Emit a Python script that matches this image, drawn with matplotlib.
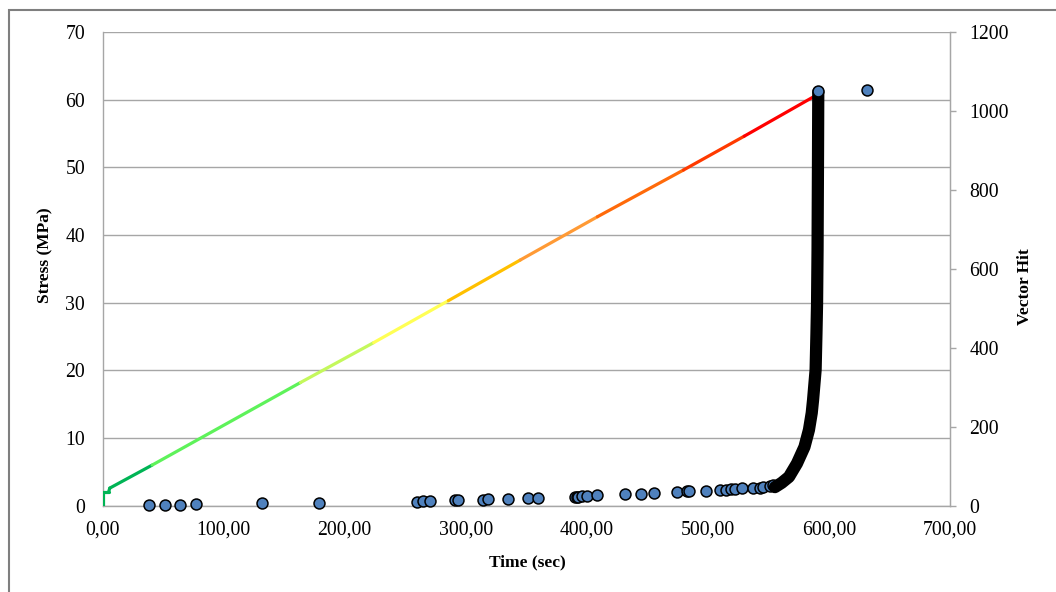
import matplotlib
matplotlib.use("Agg")
import matplotlib.pyplot as plt
from matplotlib.ticker import FuncFormatter, FixedLocator
from matplotlib.patches import Rectangle

# Stress ramp (time in s, stress in MPa)
stress_time = [0, 0, 5, 6, 41, 163.5, 224, 285.7, 345, 408.8, 479.8, 530, 591]
stress_mpa = [0, 2.0, 2.0, 2.6, 6.0, 18.2, 24.1, 30.3, 36.3, 42.7, 49.6, 54.6, 60.8]
segment_colors = ["#00b455", "#00b455", "#00b455", "#00b455", "#5ef25a",
                  "#c4f85c", "#ffff55", "#ffc000", "#ff9a35", "#ff6a0a",
                  "#ff3a00", "#ff0000"]

# Cumulative vector hits (sparse events)
hit_time = [38.2, 51.4, 63.8, 77.6, 131.8, 178.5,
            259.5, 265.0, 270.5, 291.3, 294.0, 314.5, 318.7, 335.2,
            351.7, 360.0, 390.5, 392.0, 393.0, 395.8, 400.0, 408.2,
            431.6, 444.8, 455.6, 474.7, 482.9, 484.7, 498.5, 510.0,
            515.0, 518.9, 522.4, 528.0, 537.5, 543.3, 545.6, 551.2, 553.9]
hit_count = [1, 2, 3, 5, 6, 8,
             10, 11, 12, 14, 15, 15, 16, 17,
             19, 20, 21, 22, 22, 24, 25, 27,
             29, 30, 33, 35, 36, 37, 38, 40,
             41, 42, 43, 44, 44, 46, 48, 50, 52]

# Burst of hits just before failure
burst_time = [555.4, 561.0, 567.0, 573.6, 579.8, 583.5, 585.8, 586.9,
              589.0, 589.7, 590.2, 590.6, 591.0, 591.2]
burst_count = [47, 58, 73, 107, 149, 192, 235, 268,
               344, 437, 513, 647, 900, 1048]

# Final hits
final_time = [591.2, 631.8]
final_count = [1050, 1052]

x_ticks = [0, 100, 200, 300, 400, 500, 600, 700]
stress_ticks = [0, 10, 20, 30, 40, 50, 60, 70]
hit_ticks = [0, 200, 400, 600, 800, 1000, 1200]

plt.rcParams["font.family"] = ["Liberation Serif", "DejaVu Serif"]

W, H = 1056, 592
fig = plt.figure(figsize=(W / 100, H / 100), dpi=100)
left, right, top, bottom = 102.5, 950.0, 32.0, 505.7
ax = fig.add_axes([left / W, 1 - bottom / H, (right - left) / W, (bottom - top) / H])

grid_c = "#a6a6a6"
tick_fs = 14.2
ax.set_xlim(0, 700)
ax.set_ylim(0, 70)
ax.xaxis.set_major_locator(FixedLocator(x_ticks))
ax.yaxis.set_major_locator(FixedLocator(stress_ticks))
ax.xaxis.set_major_formatter(FuncFormatter(lambda v, p: f"{v:.2f}".replace(".", ",")))
ax.yaxis.set_major_formatter(FuncFormatter(lambda v, p: f"{v:g}"))
ax.grid(axis="y", color=grid_c, linewidth=1.0)
ax.set_axisbelow(True)
ax.tick_params(axis="x", length=0, pad=10.5, labelsize=tick_fs)
ax.tick_params(axis="y", length=0, pad=12.5, labelsize=tick_fs)
for s in ["left", "bottom", "right"]:
    ax.spines[s].set_color(grid_c)
    ax.spines[s].set_linewidth(1.0)
ax.spines["top"].set_visible(False)

for i in range(len(stress_time) - 1):
    ax.plot(stress_time[i:i + 2], stress_mpa[i:i + 2], color=segment_colors[i],
            linewidth=2.3, solid_capstyle="round", zorder=3)

ax2 = ax.twinx()
ax2.set_ylim(0, 1200)
ax2.yaxis.set_major_locator(FixedLocator(hit_ticks))
ax2.yaxis.set_major_formatter(FuncFormatter(lambda v, p: f"{v:g}"))
ax2.tick_params(axis="y", length=4, width=1, color=grid_c, pad=10, labelsize=tick_fs)
for s in ["left", "bottom", "top"]:
    ax2.spines[s].set_visible(False)
ax2.spines["right"].set_color(grid_c)

marker_kw = dict(s=62, facecolor="#4f81bd", edgecolor="black", linewidths=1.1,
                 zorder=4, clip_on=False)
ax2.scatter(hit_time, hit_count, **marker_kw)
ax2.plot(burst_time, burst_count, color="black", linewidth=8.8,
         solid_capstyle="round", solid_joinstyle="round", zorder=5)
ax2.scatter(final_time, final_count, **{**marker_kw, "zorder": 6})

fig.text(45 / W, 1 - 255 / H, "Stress (MPa)", rotation=90, ha="center", va="center",
         fontsize=12.5, fontweight="bold")
fig.text(1025 / W, 1 - 287 / H, "Vector Hit", rotation=90, ha="center", va="center",
         fontsize=12.5, fontweight="bold")
fig.text(527 / W, 1 - 562 / H, "Time (sec)", ha="center", va="center",
         fontsize=12.5, fontweight="bold")

# Outer chart frame
fig.patches.append(Rectangle((8.5 / W, -0.1), 1.2, (1 - 10 / H) + 0.1,
                             transform=fig.transFigure, fill=False,
                             edgecolor="#7f7f7f", linewidth=1.5))

fig.savefig("out.png", dpi=100, facecolor="white")
